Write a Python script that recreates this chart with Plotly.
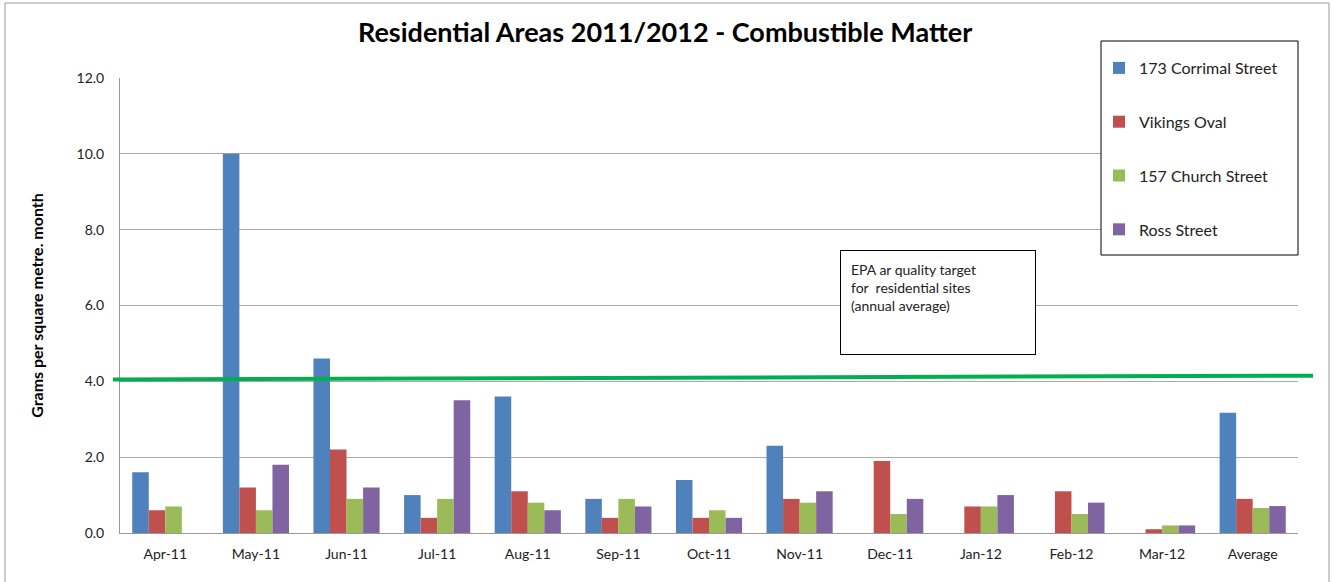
import plotly.graph_objects as go

months = ["Apr-11", "May-11", "Jun-11", "Jul-11", "Aug-11", "Sep-11", "Oct-11",
          "Nov-11", "Dec-11", "Jan-12", "Feb-12", "Mar-12", "Average"]
corrimal = [1.6, 10.0, 4.6, 1.0, 3.6, 0.9, 1.4, 2.3, None, None, None, None, 3.17]
vikings = [0.6, 1.2, 2.2, 0.4, 1.1, 0.4, 0.4, 0.9, 1.9, 0.7, 1.1, 0.1, 0.9]
church = [0.7, 0.6, 0.9, 0.9, 0.8, 0.9, 0.6, 0.8, 0.5, 0.7, 0.5, 0.2, 0.66]
ross = [None, 1.8, 1.2, 3.5, 0.6, 0.7, 0.4, 1.1, 0.9, 1.0, 0.8, 0.2, 0.71]
y_ticks = [0, 2, 4, 6, 8, 10, 12]
target_start, target_end = 4.05, 4.15

series = [
    ("173 Corrimal Street", corrimal, "#4F81BD"),
    ("Vikings Oval", vikings, "#C0504D"),
    ("157 Church Street", church, "#9BBB59"),
    ("Ross Street", ross, "#8064A2"),
]

FONT = "Lato"
PW, PH = 1178, 455


def px_x(p):
    return (p - 120) / PW


def px_y(p):
    return (533 - p) / PH


fig = go.Figure()
for i, (name, vals, col) in enumerate(series):
    fig.add_trace(go.Bar(x=months, y=vals, name=name, marker_color=col,
                         marker_line_width=0, legendgroup=f"g{i}"))

fig.update_layout(
    width=1333, height=582,
    margin=dict(l=120, r=35, t=78, b=49),
    paper_bgcolor="white", plot_bgcolor="white",
    barmode="group", bargap=0.27, bargroupgap=0,
    font=dict(family=FONT, size=14, color="#222"),
    title=dict(text="<b>Residential Areas 2011/2012 - Combustible Matter</b>",
               x=0.499, xanchor="center", y=1 - 33 / 582, yanchor="middle",
               font=dict(family=FONT, size=27, color="black")),
    legend=dict(x=px_x(1099), y=px_y(51), xanchor="left", yanchor="top",
                bgcolor="rgba(0,0,0,0)", borderwidth=0,
                font=dict(family=FONT, size=16, color="#222"),
                tracegroupgap=30),
    xaxis=dict(showline=True, linecolor="#999", linewidth=1, ticks="",
               tickfont=dict(size=14), ticklabelstandoff=8, fixedrange=True),
    yaxis=dict(range=[0, 12], tickvals=y_ticks, tickformat=".1f",
               showgrid=True, gridcolor="#aaa", gridwidth=1,
               showline=True, linecolor="#999", linewidth=1, ticks="",
               ticklabelstandoff=12, tickfont=dict(size=14),
               title=dict(text="<b>Grams per square metre. month</b>",
                          font=dict(size=16, color="black"), standoff=28),
               automargin=False, zeroline=False),
)

# EPA target line
fig.add_shape(type="line", xref="paper", yref="y",
              x0=px_x(113), x1=px_x(1313),
              y0=target_start, y1=target_end,
              line=dict(color="#00B050", width=4))

# outer chart border
fig.add_shape(type="rect", xref="paper", yref="paper",
              x0=px_x(5), x1=px_x(1329), y0=-0.2, y1=px_y(3),
              line=dict(color="#999", width=1), fillcolor="rgba(0,0,0,0)")

# legend box
fig.add_shape(type="rect", xref="paper", yref="paper", layer="above",
              x0=px_x(1101), x1=px_x(1298), y0=px_y(255), y1=px_y(41),
              line=dict(color="black", width=1), fillcolor="white")

fig.add_annotation(xref="paper", yref="paper",
                   x=px_x(840), y=px_y(250),
                   xanchor="left", yanchor="top", showarrow=False,
                   text="EPA ar quality target<br>for  residential sites<br>(annual average)",
                   align="left", valign="top", width=174, height=83,
                   borderpad=10, bordercolor="black", borderwidth=1, bgcolor="white",
                   font=dict(family=FONT, size=14, color="#222"))

fig.write_html("out.html")
